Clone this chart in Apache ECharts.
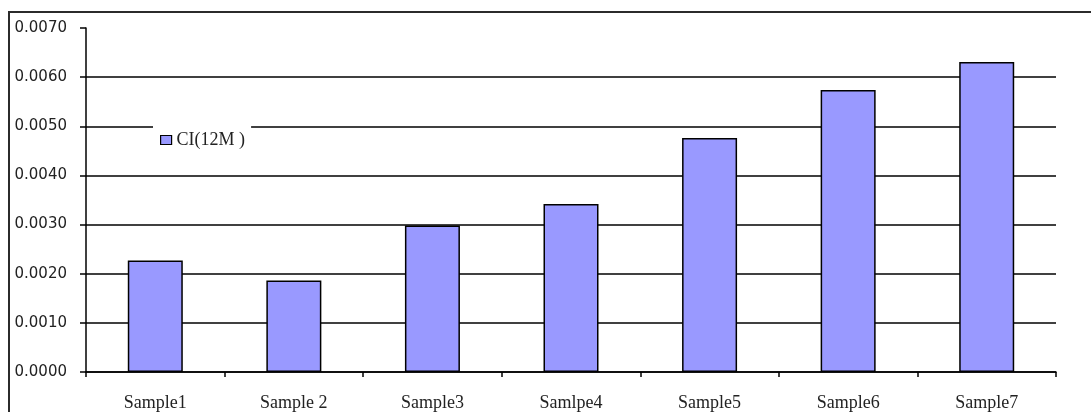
<!DOCTYPE html>
<html>
<head>
<meta charset="utf-8">
<script src="https://cdn.jsdelivr.net/npm/echarts@6/dist/echarts.min.js"></script>
<style>
  html, body { margin: 0; padding: 0; background: #fff; }
  #chart { width: 1091px; height: 412px; }
</style>
</head>
<body>
<div id="chart"></div>
<script>
// Sample names shown along the category axis
const categories = ['Sample1', 'Sample 2', 'Sample3', 'Samlpe4', 'Sample5', 'Sample6', 'Sample7'];
// CI(12M) value per sample
const ciValues = [0.00227, 0.00186, 0.00298, 0.00342, 0.00476, 0.00574, 0.00631];
const seriesName = 'CI(12M )';
// Value axis range and step
const yMin = 0;
const yMax = 0.007;
const yStep = 0.001;

const chart = echarts.init(document.getElementById('chart'), null, { renderer: 'canvas' });

// one colour per split line, from 0 upward; the top line is left out
const splitColors = [];
for (let v = yMin; v <= yMax + 1e-9; v += yStep) splitColors.push('#000');
splitColors[splitColors.length - 1] = 'rgba(0,0,0,0)';

chart.setOption({
  backgroundColor: '#fff',
  animation: false,
  graphic: [{
    type: 'rect',
    shape: { x: 9, y: 12, width: 1100, height: 420 },
    style: { fill: 'none', stroke: '#2b2b2b', lineWidth: 2 },
    z: 100
  }],
  grid: { left: 86, right: 35, top: 28, bottom: 40 },
  legend: {
    left: 153,
    top: 125,
    padding: [6, 6, 6, 7],
    backgroundColor: '#fff',
    icon: 'rect',
    itemWidth: 11,
    itemHeight: 9,
    itemGap: 5,
    itemStyle: { borderColor: '#000', borderWidth: 1.2 },
    textStyle: { fontFamily: 'Liberation Serif', fontSize: 18, color: '#222' },
    data: [seriesName]
  },
  xAxis: {
    type: 'category',
    data: categories,
    axisLine: { lineStyle: { color: '#000', width: 1.5 } },
    axisTick: { show: true, length: 5, lineStyle: { color: '#000', width: 1.5 } },
    axisLabel: { margin: 22, fontFamily: 'Liberation Serif', fontSize: 18, color: '#222' },
    splitLine: { show: false }
  },
  yAxis: {
    type: 'value',
    min: yMin,
    max: yMax,
    interval: yStep,
    axisLine: { show: true, lineStyle: { color: '#000', width: 1.5 } },
    axisTick: { show: true, length: 6, lineStyle: { color: '#000', width: 1.5 } },
    axisLabel: {
      margin: 19,
      fontFamily: 'DejaVu Sans',
      fontSize: 15,
      color: '#222',
      formatter: v => v.toFixed(4)
    },
    splitLine: { show: true, lineStyle: { color: splitColors, width: 1.5 } }
  },
  series: [{
    name: seriesName,
    type: 'bar',
    data: ciValues,
    barWidth: 55,
    itemStyle: { color: '#9999FF', borderColor: '#000', borderWidth: 1.5 }
  }]
});
</script>
</body>
</html>
